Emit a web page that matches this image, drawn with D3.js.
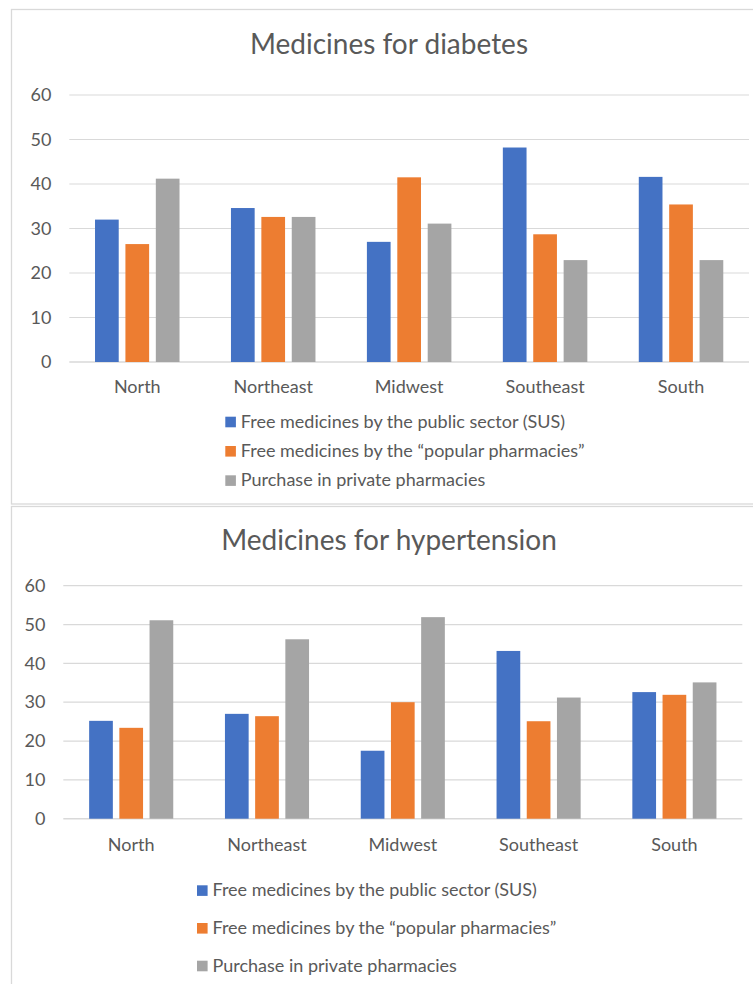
<!DOCTYPE html>
<html>
<head>
<meta charset="utf-8">
<script src="https://cdn.jsdelivr.net/npm/d3@7"></script>
<style>
  html, body { margin: 0; padding: 0; background: #ffffff; }
  svg { display: block; }
  text { font-family: Lato, "Noto Sans", sans-serif; fill: #595959; }
</style>
</head>
<body>
<svg id="chart" width="753" height="984"></svg>
<script>
// Regions on the category axis
const regions = ["North", "Northeast", "Midwest", "Southeast", "South"];

// Source of the medicines (legend entries)
const sources = [
  "Free medicines by the public sector (SUS)",
  "Free medicines by the \u201cpopular pharmacies\u201d",
  "Purchase in private pharmacies"
];
const sourceColors = ["#4472C4", "#ED7D31", "#A5A5A5"];

// Medicines for diabetes (%)
const diabetesSUS     = [32.0, 34.6, 27.0, 48.2, 41.6];
const diabetesPopular = [26.5, 32.6, 41.5, 28.7, 35.4];
const diabetesPrivate = [41.2, 32.6, 31.1, 22.9, 22.9];

// Medicines for hypertension (%)
const hypertensionSUS     = [25.2, 27.0, 17.5, 43.2, 32.6];
const hypertensionPopular = [23.4, 26.4, 30.0, 25.1, 31.9];
const hypertensionPrivate = [51.1, 46.2, 51.9, 31.2, 35.1];

// Value axis ticks
const yTicks = [0, 10, 20, 30, 40, 50, 60];

const svg = d3.select("#chart");

function drawPanel(cfg) {
  const g = svg.append("g");

  // chart frame
  g.append("rect")
    .attr("x", cfg.frame.x).attr("y", cfg.frame.y)
    .attr("width", cfg.frame.w).attr("height", cfg.frame.h)
    .attr("fill", "#ffffff")
    .attr("stroke", "#d9d9d9").attr("stroke-width", 1.3);

  // title
  g.append("text")
    .attr("x", cfg.titleX).attr("y", cfg.titleY)
    .attr("text-anchor", "middle")
    .style("font-size", "28px")
    .text(cfg.title);

  const y = d3.scaleLinear().domain([0, 60]).range([cfg.y0, cfg.y60]);
  const x = d3.scaleBand().domain(regions).range([cfg.left, cfg.right]).padding(0);
  const barW = 23.7, barStep = cfg.barStep;
  const offset = d3.scaleLinear().domain([0, 2]).range([-barStep, barStep]);

  // gridlines
  g.append("g").selectAll("line")
    .data(yTicks)
    .join("line")
    .attr("x1", cfg.left).attr("x2", cfg.right)
    .attr("y1", d => y(d)).attr("y2", d => y(d))
    .attr("stroke", "#d9d9d9")
    .attr("stroke-width", d => d === 0 ? 1.6 : 1.2);

  // y tick labels
  const yAxis = d3.axisLeft(y).tickValues(yTicks).tickSize(0).tickPadding(0);
  const ya = g.append("g")
    .attr("transform", `translate(${cfg.tickRight},0)`)
    .call(yAxis);
  ya.select(".domain").remove();
  ya.selectAll("text")
    .style("font-size", "18px")
    .style("font-family", "Lato, 'Noto Sans', sans-serif")
    .attr("fill", "#595959");

  // bars
  const series = cfg.series;
  series.forEach((vals, si) => {
    g.append("g").selectAll("rect")
      .data(vals)
      .join("rect")
      .attr("x", (d, i) => x(regions[i]) + x.bandwidth() / 2 + offset(si) - barW / 2)
      .attr("width", barW)
      .attr("y", d => y(d))
      .attr("height", d => y(0) - y(d))
      .attr("fill", sourceColors[si]);
  });

  // category labels
  const xAxis = d3.axisBottom(x).tickSize(0).tickPadding(0);
  const xa = g.append("g")
    .attr("transform", `translate(0,${cfg.catBaseline})`)
    .call(xAxis);
  xa.select(".domain").remove();
  xa.selectAll("text")
    .attr("dy", 0)
    .attr("y", 0)
    .style("font-size", "18px")
    .style("font-family", "Lato, 'Noto Sans', sans-serif")
    .attr("fill", "#595959");

  // legend
  const lg = g.append("g")
    .attr("transform", `translate(${cfg.legendX},${cfg.legendY})`);
  const items = lg.selectAll("g")
    .data(sources)
    .join("g")
    .attr("transform", (d, i) => `translate(0,${i * cfg.legendStep})`);
  items.append("rect")
    .attr("x", 0).attr("y", 0)
    .attr("width", 10.6).attr("height", 10.6)
    .attr("fill", (d, i) => sourceColors[i]);
  items.append("text")
    .attr("x", 15.5).attr("y", 10.8)
    .style("font-size", "18px")
    .text(d => d);
}

drawPanel({
  title: "Medicines for diabetes",
  frame: { x: 11.5, y: 9.5, w: 760, h: 494.5 },
  titleX: 389, titleY: 54,
  y0: 362, y60: 95,
  left: 69.3, right: 749,
  barStep: 30.4,
  tickRight: 51.5,
  catBaseline: 393.3,
  legendX: 225.3, legendY: 416.7, legendStep: 29.3,
  series: [diabetesSUS, diabetesPopular, diabetesPrivate]
});

drawPanel({
  title: "Medicines for hypertension",
  frame: { x: 11.5, y: 506.5, w: 760, h: 500 },
  titleX: 389, titleY: 550,
  y0: 818.7, y60: 585.7,
  left: 63.3, right: 742.3,
  barStep: 30.2,
  tickRight: 45.5,
  catBaseline: 850.7,
  legendX: 197, legendY: 885.3, legendStep: 37.7,
  series: [hypertensionSUS, hypertensionPopular, hypertensionPrivate]
});
</script>
</body>
</html>
